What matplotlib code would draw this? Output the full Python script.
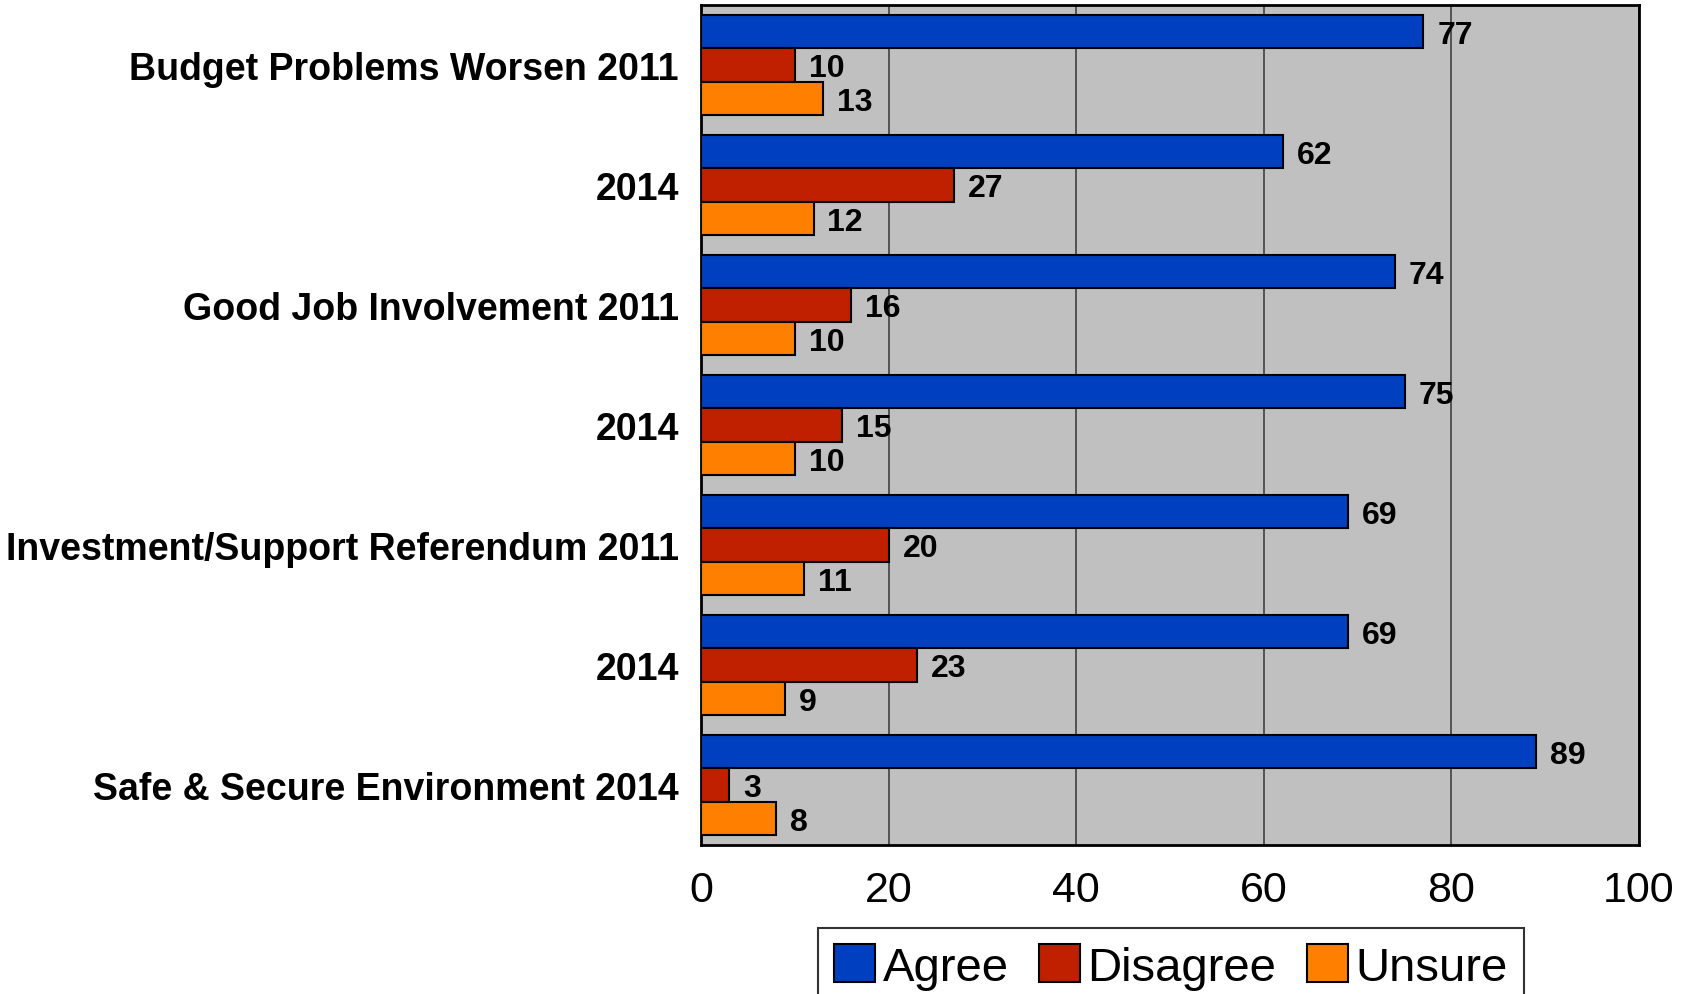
import matplotlib
matplotlib.use("Agg")
import matplotlib.pyplot as plt
import numpy as np
from matplotlib.patches import Patch

categories = ["Budget Problems Worsen 2011", "2014", "Good Job Involvement 2011", "2014",
              "Investment/Support Referendum 2011", "2014", "Safe & Secure Environment 2014"]
agree = [77, 62, 74, 75, 69, 69, 89]
disagree = [10, 27, 16, 15, 20, 23, 3]
unsure = [13, 12, 10, 10, 11, 9, 8]
series_names = ["Agree", "Disagree", "Unsure"]
xticks = [0, 20, 40, 60, 80, 100]

colors = ["#0040C0", "#C02000", "#FF8000"]

plt.rcParams["font.family"] = ["Liberation Sans", "DejaVu Sans"]

fig = plt.figure(figsize=(16.94, 9.95), dpi=100)
ax = fig.add_axes([701/1694, 1-846/995, (1639-701)/1694, (846-6)/995])
ax.set_facecolor("#C0C0C0")

n = len(categories)
y = np.arange(n)
h = 0.28
data = [agree, disagree, unsure]
for i, (vals, c) in enumerate(zip(data, colors)):
    pos = y + (i - 1) * h
    bars = ax.barh(pos, vals, height=h, color=c, edgecolor="black", linewidth=1.5, zorder=3)
    for b, v in zip(bars, vals):
        ax.annotate(str(v), xy=(v, b.get_y() + b.get_height()/2), xytext=(10, -2.5),
                    textcoords="offset points", va="center", ha="left",
                    fontsize=23, fontweight="bold", color="black", zorder=4)

ax.set_xlim(0, 100)
ax.set_ylim(n - 0.5, -0.5)
ax.set_xticks(xticks)
ax.set_xticklabels([str(t) for t in xticks], fontsize=31)
ax.set_yticks(y)
ax.set_yticklabels(categories, fontsize=27, fontweight="bold")
ax.tick_params(axis="both", length=0)
ax.tick_params(axis="x", pad=18)
ax.tick_params(axis="y", pad=16)
ax.xaxis.grid(True, color="#404040", linewidth=1.2, zorder=0)
ax.set_axisbelow(True)
for s in ax.spines.values():
    s.set_linewidth(2)
    s.set_color("black")

handles = [Patch(facecolor=c, edgecolor="black", linewidth=1.5) for c in colors]
leg = fig.legend(handles, series_names, loc="upper left",
                 bbox_to_anchor=(818/1694, 1-929/995), ncol=3,
                 prop={"size": 34},
                 frameon=True, fancybox=False, edgecolor="black",
                 handlelength=0.87, handleheight=0.87, handletextpad=0.16,
                 columnspacing=0.64, borderpad=0.34, borderaxespad=0)
leg.get_frame().set_linewidth(1.5)

fig.savefig("out.png", dpi=100)
